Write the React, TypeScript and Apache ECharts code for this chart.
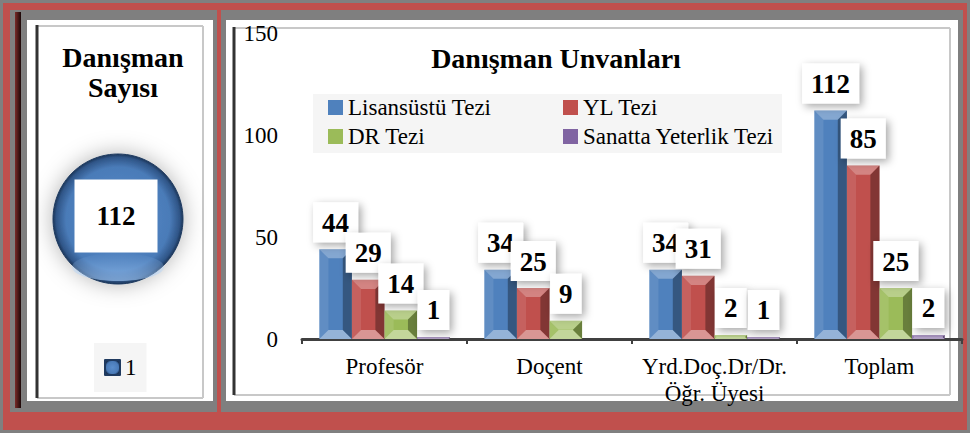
import React, { useEffect, useRef } from 'react';
import * as echarts from 'echarts';

const categories = ['Profesör', 'Doçent', 'Yrd.Doç.Dr/Dr.\nÖğr. Üyesi', 'Toplam'];
const seriesNames = ['Lisansüstü Tezi', 'YL Tezi', 'DR Tezi', 'Sanatta Yeterlik Tezi'];
const lisansustu = [44, 34, 34, 112];
const ylTezi = [29, 25, 31, 85];
const drTezi = [14, 9, 2, 25];
const sanattaYeterlik = [1, 0, 1, 2];
const yTicks = [0, 50, 100, 150];
const pieCategories = ['1'];
const pieValues = [112];

const colors = ['#4F81BD', '#C0504D', '#9BBB59', '#8064A2'];
const FONT = 'Liberation Serif';
const GAP = 0.21;

const allSeries = [lisansustu, ylTezi, drTezi, sanattaYeterlik];

function bevelRender(s: number) {
  return (params: any, api: any) => {
    const ci = api.value(0);
    const v = api.value(1);
    if (!v) return null;
    const p0 = api.coord([ci, 0]);
    const p1 = api.coord([ci, v]);
    const band = api.size([1, 0])[0];
    const bw = (band * (1 - GAP)) / 4;
    const x0 = p0[0] - 2 * bw + s * bw;
    const x1 = x0 + bw;
    const yb = p0[1];
    const yt = p1[1];
    const h = yb - yt;
    const d = Math.min(bw * 0.28, h / 2);
    return {
      type: 'group',
      children: [
        { type: 'polygon', z2: 1, shape: { points: [[x0, yt], [x1, yt], [x1 - d, yt + d], [x0 + d, yt + d]] }, style: { fill: 'rgba(255,255,255,0.3)' } },
        { type: 'polygon', z2: 1, shape: { points: [[x0, yb], [x1, yb], [x1 - d, yb - d], [x0 + d, yb - d]] }, style: { fill: 'rgba(255,255,255,0.4)' } },
        { type: 'polygon', z2: 1, shape: { points: [[x0, yt], [x0 + d, yt + d], [x0 + d, yb - d], [x0, yb]] }, style: { fill: 'rgba(255,255,255,0.1)' } },
        { type: 'polygon', z2: 1, shape: { points: [[x1, yt], [x1 - d, yt + d], [x1 - d, yb - d], [x1, yb]] }, style: { fill: 'rgba(0,0,0,0.32)' } },
        {
          type: 'text',
          z2: 100,
          style: {
            text: String(v),
            x: x0 + bw / 2,
            y: yt - 7,
            align: 'center',
            verticalAlign: 'bottom',
            font: 'bold 27px "Liberation Serif"',
            fill: '#000',
            backgroundColor: '#fff',
            padding: [7, 9, 6, 9],
            shadowColor: 'rgba(0,0,0,0.35)',
            shadowBlur: 8,
            shadowOffsetX: 3,
            shadowOffsetY: 3,
          },
        },
      ],
    };
  };
}

export default function App() {
  const ref = useRef<HTMLDivElement>(null);
  useEffect(() => {
    if (!ref.current) return;
    const chart = echarts.init(ref.current, undefined, { renderer: 'svg' });

    const barSeries = allSeries.map((vals, s) => ({
      type: 'bar',
      name: seriesNames[s],
      barGap: '0%',
      barCategoryGap: GAP * 100 + '%',
      itemStyle: { color: colors[s] },
      data: vals,
      z: 2,
    }));

    const bevelSeries = allSeries.map((vals, s) => ({
      type: 'custom',
      name: 'bevel' + s,
      coordinateSystem: 'cartesian2d',
      silent: true,
      z: 3,
      renderItem: bevelRender(s),
      data: vals.map((v, i) => [i, v]),
    }));

    const lightLine = '#C8C8C8';
    const option: any = {
      animation: false,
      backgroundColor: '#808080',
      title: [
        {
          text: 'Danışman Unvanları',
          left: 551,
          top: 39,
          textAlign: 'center',
          textStyle: { fontFamily: FONT, fontSize: 28, fontWeight: 'bold', color: '#000' },
        },
        {
          text: 'Danışman\nSayısı',
          left: 118,
          top: 37,
          textAlign: 'center',
          textStyle: { fontFamily: FONT, fontSize: 28, fontWeight: 'bold', color: '#000', lineHeight: 30 },
        },
      ],
      graphic: [
        { type: 'rect', z: 0, shape: { x: 3, y: 3, width: 964, height: 427 }, style: { fill: '#C0504D' } },
        { type: 'rect', z: 0, shape: { x: 10, y: 10, width: 207, height: 402 }, style: { fill: '#7F7F7F' } },
        { type: 'rect', z: 0, shape: { x: 221, y: 10, width: 742, height: 402 }, style: { fill: '#7F7F7F' } },
        {
          type: 'rect', z: 0, shape: { x: 15, y: 12, width: 6, height: 396 },
          style: { fill: new echarts.graphic.LinearGradient(0, 0, 1, 0, [{ offset: 0, color: '#7a2a28' }, { offset: 1, color: '#1a0808' }]) },
        },
        { type: 'rect', z: 0, shape: { x: 27, y: 20, width: 186, height: 381 }, style: { fill: '#FFFFFF' } },
        { type: 'rect', z: 0, shape: { x: 226, y: 20, width: 732, height: 381 }, style: { fill: '#FFFFFF' } },
        { type: 'line', z: 0, shape: { x1: 37, y1: 26, x2: 203, y2: 26 }, style: { stroke: lightLine, lineWidth: 2 } },
        { type: 'line', z: 0, shape: { x1: 203, y1: 26, x2: 203, y2: 398 }, style: { stroke: lightLine, lineWidth: 2 } },
        { type: 'line', z: 0, shape: { x1: 37, y1: 398, x2: 203, y2: 398 }, style: { stroke: lightLine, lineWidth: 2 } },
        { type: 'line', z: 0, shape: { x1: 37, y1: 25, x2: 37, y2: 398 }, style: { stroke: '#333333', lineWidth: 3 } },
        { type: 'line', z: 0, shape: { x1: 234, y1: 28, x2: 950, y2: 28 }, style: { stroke: lightLine, lineWidth: 2 } },
        { type: 'line', z: 0, shape: { x1: 950, y1: 28, x2: 950, y2: 395 }, style: { stroke: lightLine, lineWidth: 2 } },
        { type: 'line', z: 0, shape: { x1: 234, y1: 395, x2: 950, y2: 395 }, style: { stroke: lightLine, lineWidth: 2 } },
        { type: 'line', z: 0, shape: { x1: 234, y1: 27, x2: 234, y2: 395 }, style: { stroke: '#333333', lineWidth: 3 } },
        { type: 'rect', z: 0, shape: { x: 313, y: 94, width: 469, height: 59 }, style: { fill: '#F5F5F5' } },
        {
          type: 'ellipse', z: 3, silent: true, shape: { cx: 118, cy: 267, rx: 46, ry: 14 },
          style: { fill: new echarts.graphic.LinearGradient(0, 0, 0, 1, [{ offset: 0, color: 'rgba(170,210,255,0)' }, { offset: 1, color: 'rgba(170,210,255,0.6)' }]) },
        },
      ],
      legend: [
        {
          data: [seriesNames[0], seriesNames[2]],
          orient: 'vertical',
          left: 328,
          top: 96,
          padding: 0,
          itemGap: 6,
          itemWidth: 15,
          itemHeight: 15,
          icon: 'rect',
          textStyle: { fontFamily: FONT, fontSize: 23, color: '#000' },
        },
        {
          data: [seriesNames[1], seriesNames[3]],
          orient: 'vertical',
          left: 563,
          top: 96,
          padding: 0,
          itemGap: 6,
          itemWidth: 15,
          itemHeight: 15,
          icon: 'rect',
          textStyle: { fontFamily: FONT, fontSize: 23, color: '#000' },
        },
        {
          data: pieCategories,
          left: 94,
          top: 343,
          padding: [13, 10],
          backgroundColor: '#F5F5F5',
          itemWidth: 15,
          itemHeight: 15,
          icon: 'rect',
          textStyle: { fontFamily: FONT, fontSize: 23, color: '#000' },
        },
      ],
      grid: { left: 302, right: 8, top: 33, bottom: 94, containLabel: false },
      xAxis: {
        type: 'category',
        data: categories,
        axisLine: { lineStyle: { color: '#404040', width: 3 } },
        axisTick: { show: true, length: 5, lineStyle: { color: '#404040', width: 2 } },
        axisLabel: { fontFamily: FONT, fontSize: 23, color: '#000', margin: 14, lineHeight: 27, interval: 0 },
      },
      yAxis: {
        type: 'value',
        min: yTicks[0],
        max: yTicks[yTicks.length - 1],
        interval: yTicks[1] - yTicks[0],
        axisLine: { show: false },
        axisTick: { show: false },
        splitLine: { show: false },
        axisLabel: { fontFamily: FONT, fontSize: 23, color: '#000', margin: 24 },
      },
      series: [
        ...barSeries,
        ...bevelSeries,
        {
          type: 'pie',
          name: 'Danışman Sayısı',
          center: [118, 219],
          radius: 65,
          silent: true,
          itemStyle: {
            color: new echarts.graphic.RadialGradient(0.5, 0.5, 0.5, [
              { offset: 0, color: '#5B8ECC' },
              { offset: 0.8, color: '#4A7BB8' },
              { offset: 0.95, color: '#2F5587' },
              { offset: 1, color: '#1C3558' },
            ]),
            borderColor: '#1F3A5F',
            borderWidth: 1,
            shadowBlur: 22,
            shadowColor: 'rgba(0,0,0,0.3)',
          },
          label: {
            show: true,
            position: 'center',
            formatter: '{c}',
            fontFamily: FONT,
            fontSize: 27,
            fontWeight: 'bold',
            color: '#000',
            backgroundColor: '#fff',
            padding: [23, 22],
            offset: [-2, -3],
          },
          labelLine: { show: false },
          data: pieCategories.map((n, i) => ({ name: n, value: pieValues[i] })),
        },
      ],
    };
    chart.setOption(option);
    return () => chart.dispose();
  }, []);
  return <div ref={ref} style={{ position: 'fixed', left: 0, top: 0, width: 970, height: 433 }} />;
}
